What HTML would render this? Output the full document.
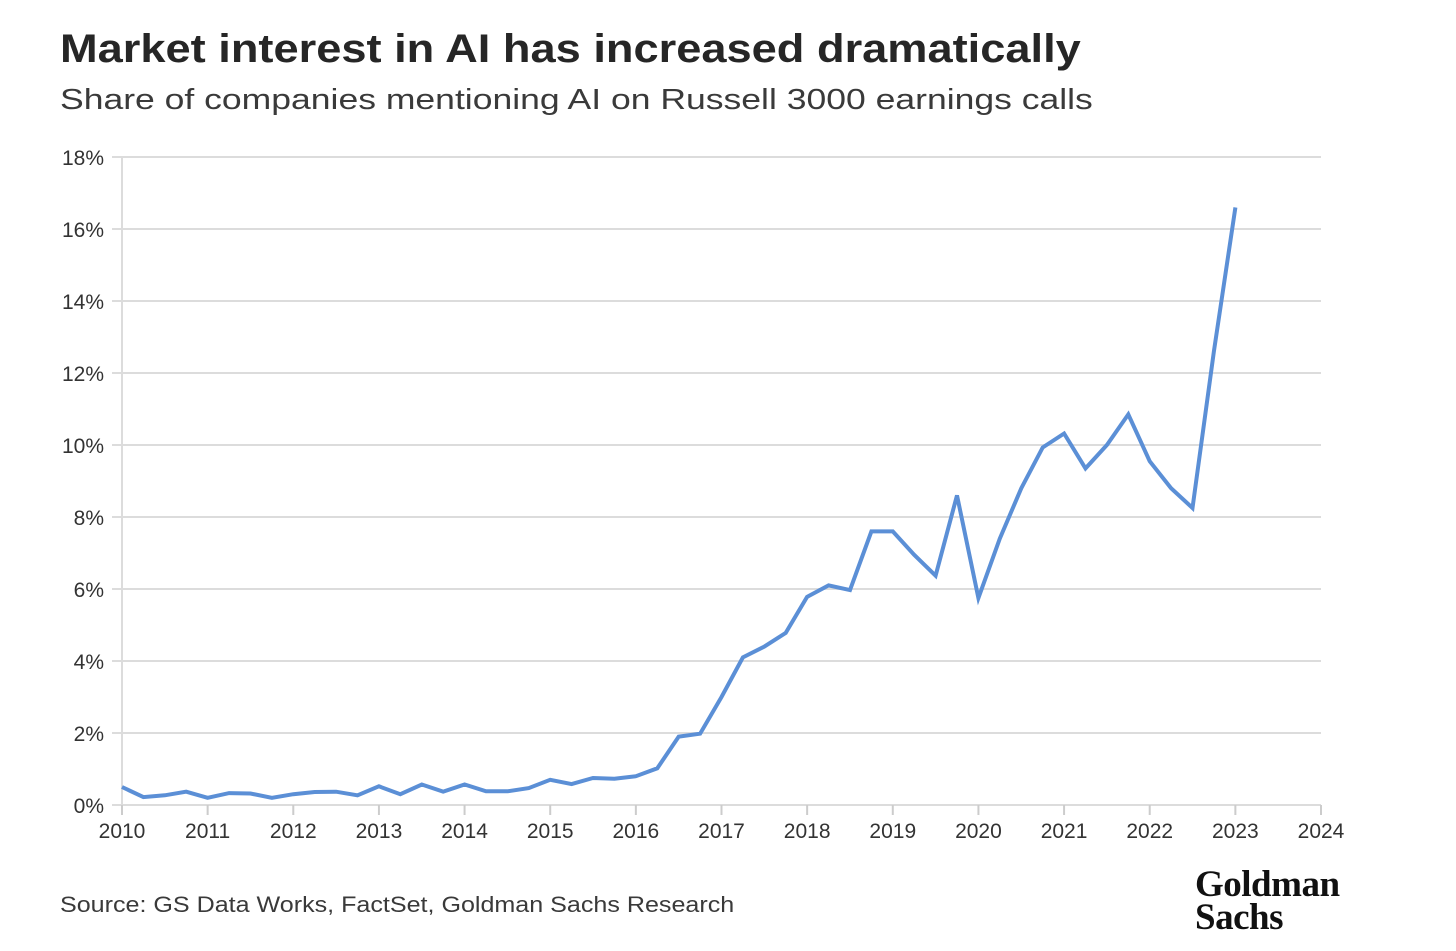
<!DOCTYPE html>
<html><head><meta charset="utf-8"><style>
body{margin:0;background:#fff;width:1456px;height:951px;overflow:hidden;font-family:"Liberation Sans",sans-serif;color:#2b2b2b}
#title{position:absolute;left:60px;top:27px;font-size:40px;font-weight:bold;color:#262626;transform:scaleX(1.13);transform-origin:left top;white-space:nowrap}
#sub{position:absolute;left:60px;top:84px;font-size:29px;color:#3a3a3a;transform:scaleX(1.225);transform-origin:left top;white-space:nowrap}
#src{position:absolute;left:60px;top:892px;font-size:22px;color:#3a3a3a;transform:scaleX(1.14);transform-origin:left top;white-space:nowrap}
#logo{position:absolute;left:1195px;top:868px;font-family:"Liberation Serif",serif;font-weight:bold;font-size:37px;line-height:33px;color:#111;letter-spacing:-0.5px}
svg{position:absolute;left:0;top:0}
</style></head><body>
<div id="title">Market interest in AI has increased dramatically</div>
<div id="sub">Share of companies mentioning AI on Russell 3000 earnings calls</div>
<svg id="chart" width="1456" height="951"></svg>
<div id="src">Source: GS Data Works, FactSet, Goldman Sachs Research</div>
<div id="logo">Goldman<br>Sachs</div>
<script>
const yTicks=[0,2,4,6,8,10,12,14,16,18];
const xTicks=[2010,2011,2012,2013,2014,2015,2016,2017,2018,2019,2020,2021,2022,2023,2024];
const startYear=2010;
const values=[0.5,0.22,0.27,0.37,0.2,0.33,0.32,0.2,0.3,0.36,0.37,0.27,0.52,0.3,0.57,0.37,0.57,0.38,0.38,0.47,0.7,0.58,0.75,0.73,0.8,1.02,1.9,1.98,3.0,4.1,4.4,4.78,5.78,6.1,5.97,7.6,7.6,6.95,6.37,8.6,5.75,7.4,8.8,9.93,10.32,9.35,10.0,10.85,9.55,8.8,8.25,12.6,16.6];
const NS='http://www.w3.org/2000/svg';
const svg=document.getElementById('chart');
const X=v=>122+(v-2010)*(1321-122)/14;
const Y=v=>805-v*(805-157)/18;
function mk(t,a){const e=document.createElementNS(NS,t);for(const k in a)e.setAttribute(k,a[k]);svg.appendChild(e);return e;}
yTicks.forEach(t=>{
 const g=mk('line',{x1:112,x2:1321,y1:Y(t),y2:Y(t),stroke:'#dcdcdc','stroke-width':2});
 
 
 const l=mk('text',{x:104,y:Y(t)+8,'text-anchor':'end','font-size':21,fill:'#333','font-family':'Liberation Sans, sans-serif'});
 l.textContent=t+'%';
 
 
});
const ax=mk('line',{x1:122,x2:122,y1:157,y2:805,stroke:'#dcdcdc','stroke-width':2});


xTicks.forEach(t=>{
 const k=mk('line',{x1:X(t),x2:X(t),y1:805,y2:815,stroke:'#ccc','stroke-width':2});
 
 
 const l=mk('text',{x:X(t),y:838,'text-anchor':'middle','font-size':21,fill:'#333','font-family':'Liberation Sans, sans-serif'});
 l.textContent=t;
 
 
});
const pts=values.map((v,i)=>X(startYear+i/4).toFixed(1)+','+Y(v).toFixed(1)).join(' ');
const pl=mk('polyline',{points:pts,fill:'none',stroke:'#5b8fd6','stroke-width':4,'stroke-linejoin':'miter'});


</script>
</body></html>
